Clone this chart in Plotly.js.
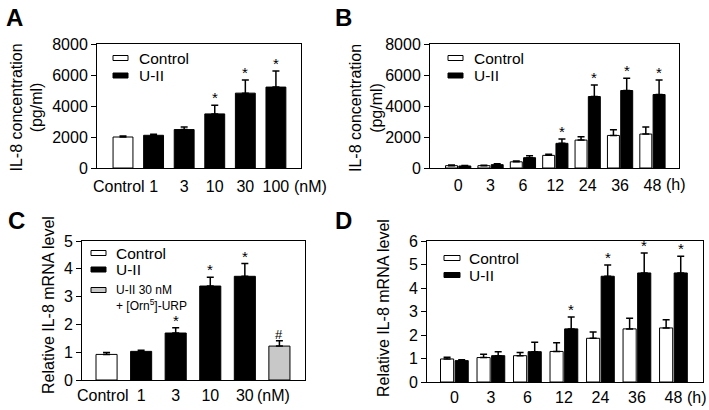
<!DOCTYPE html>
<html>
<head>
<meta charset="utf-8">
<script src="https://cdn.plot.ly/plotly-3.0.1.min.js"></script>
<style>
  html, body { margin: 0; padding: 0; background: #fff; }
  #chart { width: 709px; height: 410px; }
</style>
</head>
<body>
<div id="chart"></div>
<script>
// A: IL-8 protein vs U-II dose
var doseA = ['Control', '1', '3', '10', '30', '100'];
var ctrlA = [2000];
var ctrlAErr = [60];
var uiiA = [2110, 2480, 3490, 4830, 5220];
var uiiAErr = [70, 170, 560, 840, 1035];
var starsA = [3, 4, 5];

// B: IL-8 protein vs time
var hours = ['0', '3', '6', '12', '24', '36', '48'];
var ctrlB = [150, 150, 400, 815, 1800, 2100, 2190];
var ctrlBErr = [40, 30, 50, 70, 215, 365, 450];
var uiiB = [130, 215, 665, 1590, 4610, 5000, 4740];
var uiiBErr = [30, 65, 130, 280, 750, 795, 945];
var starsB = [3, 4, 5, 6];

// C: IL-8 mRNA vs dose (+ antagonist)
var doseC = ['Control', '1', '3', '10', '30', 'URP'];
var ctrlC = [0.92];
var ctrlCErr = [0.07];
var uiiC = [1.03, 1.69, 3.38, 3.73];
var uiiCErr = [0.04, 0.19, 0.32, 0.46];
var urpC = [1.22];
var urpCErr = [0.19];
var starsC = [2, 3, 4];

// D: IL-8 mRNA vs time
var ctrlD = [0.98, 1.04, 1.12, 1.30, 1.86, 2.26, 2.30];
var ctrlDErr = [0.07, 0.14, 0.14, 0.37, 0.27, 0.45, 0.35];
var uiiD = [0.91, 1.12, 1.29, 2.26, 4.50, 4.64, 4.64];
var uiiDErr = [0.04, 0.17, 0.40, 0.51, 0.48, 0.85, 0.71];
var starsD = [3, 4, 5, 6];

var FONT = 'Arial, "Liberation Sans", sans-serif';
var W = 709, H = 410;
var GRAY = '#c8c8c8';

function bar(x, y, err, name, fill, ax, off, w) {
    return {
        type: 'bar', x: x, y: y, name: name,
        xaxis: 'x' + ax, yaxis: 'y' + ax, showlegend: false,
        offset: off, width: w,
        marker: {color: fill, line: {color: '#000', width: 1}},
        error_y: {type: 'data', symmetric: false, array: err,
                  arrayminus: err.map(() => 0),
                  color: '#000', thickness: 1.5, width: 3.5},
        cliponaxis: false
    };
}

// significance marks sit on top of the error bar
function marks(ax, pos, vals, errs, shift, txt, size) {
    return vals.map((v, i) => ({
        xref: 'x' + ax, yref: 'y' + ax,
        x: pos[i] + shift, y: v + errs[i],
        text: txt, showarrow: false, yanchor: 'bottom', yshift: -3,
        font: {family: FONT, size: size || 15, color: '#000'}
    }));
}
function pick(arr, idx) { return idx.map(i => arr[i]); }
var minus1 = idx => idx.map(i => i - 1);

var data = [
    bar(['Control'], ctrlA, ctrlAErr, 'Control', '#fff', '', -0.325, 0.65),
    bar(doseA.slice(1), uiiA, uiiAErr, 'U-II', '#000', '', -0.325, 0.65),

    bar(hours, ctrlB, ctrlBErr, 'Control', '#fff', '2', -0.39, 0.37),
    bar(hours, uiiB, uiiBErr, 'U-II', '#000', '2', 0.02, 0.37),

    bar(['Control'], ctrlC, ctrlCErr, 'Control', '#fff', '3', -0.305, 0.61),
    bar(doseC.slice(1, 5), uiiC, uiiCErr, 'U-II', '#000', '3', -0.305, 0.61),
    bar(['URP'], urpC, urpCErr, 'U-II 30 nM + [Orn5]-URP', GRAY, '3', -0.305, 0.61),

    bar(hours, ctrlD, ctrlDErr, 'Control', '#fff', '4', -0.38, 0.36),
    bar(hours, uiiD, uiiDErr, 'U-II', '#000', '4', 0.02, 0.36)
];

// "Control" is written a little left of its bar (as an annotation below)
function xax(dom, range, cats, anchor, standoff, labelled) {
    var ax = {
        domain: dom, range: range, anchor: anchor,
        type: 'category', categoryorder: 'array', categoryarray: cats,
        showline: true, mirror: true, linecolor: '#000', linewidth: 1,
        ticks: '', tickangle: 0, ticklabelstandoff: standoff,
        showgrid: false, zeroline: false, fixedrange: true,
        tickfont: {family: FONT, size: 16, color: '#000'}
    };
    if (labelled) {
        ax.tickmode = 'array';
        ax.tickvals = labelled;
        ax.ticktext = labelled;
    }
    return ax;
}
function yax(dom, range, dtick, anchor) {
    return {
        domain: dom, range: range, dtick: dtick, anchor: anchor,
        showline: true, mirror: true, linecolor: '#000', linewidth: 1,
        ticks: 'outside', ticklen: 5, tickcolor: '#000',
        showgrid: false, zeroline: false, fixedrange: true,
        tickfont: {family: FONT, size: 16, color: '#000'}
    };
}

function text(x, y, t, size, extra) {
    return Object.assign({xref: 'paper', yref: 'paper', x: x / W, y: 1 - y / H, text: t,
        showarrow: false, xanchor: 'center', yanchor: 'middle',
        font: {family: FONT, size: size, color: '#000'}}, extra || {});
}

// hand-drawn legends: flat swatch + label, in pixels
var shapes = [];
var legendText = [];
function swatch(x0, x1, y, fill) {
    shapes.push({type: 'rect', xref: 'paper', yref: 'paper',
        x0: x0 / W, x1: x1 / W, y0: 1 - (y + 2.5) / H, y1: 1 - (y - 2.5) / H,
        fillcolor: fill, line: {color: '#000', width: 1}});
}
function legendRow(x0, x1, y, fill, tx, label) {
    swatch(x0, x1, y, fill);
    legendText.push(text(tx, y, label, 15.5, {xanchor: 'left'}));
}
legendRow(113, 128, 58, '#fff', 137, 'Control');
legendRow(113, 128, 75.5, '#000', 137, 'U-II');
legendRow(448, 463, 58, '#fff', 472, 'Control');
legendRow(448, 463, 75.5, '#000', 472, 'U-II');
legendRow(91, 106, 253, '#fff', 114, 'Control');
legendRow(91, 106, 269.5, '#000', 114, 'U-II');
swatch(91, 106, 290, GRAY);
legendText.push(text(114, 297.5, 'U-II 30 nM<br>+ [Orn<sup>5</sup>]-URP', 12,
    {xanchor: 'left', align: 'left'}));
legendRow(444, 460, 258, '#fff', 467, 'Control');
legendRow(444, 460, 275, '#000', 467, 'U-II');

var annotations = []
    .concat(marks('', starsA, pick(uiiA, minus1(starsA)), pick(uiiAErr, minus1(starsA)), 0, '*'))
    .concat(marks('2', starsB, pick(uiiB, starsB), pick(uiiBErr, starsB), 0.205, '*'))
    .concat(marks('3', starsC, pick(uiiC, minus1(starsC)), pick(uiiCErr, minus1(starsC)), 0, '*'))
    .concat(marks('3', [5], urpC, urpCErr, 0, '#', 13))
    .concat(marks('4', starsD, pick(uiiD, starsD), pick(uiiDErr, starsD), 0.2, '*'))
    .concat(legendText)
    .concat([
        text(15, 17, '<b>A</b>', 24),
        text(343, 17, '<b>B</b>', 24),
        text(16, 220, '<b>C</b>', 24),
        text(343, 220, '<b>D</b>', 24),
        text(26.5, 108, 'IL-8 concentration<br>(pg/ml)', 16, {textangle: -90}),
        text(366, 108, 'IL-8 concentration<br>(pg/ml)', 16, {textangle: -90}),
        text(48, 305, 'Relative IL-8 mRNA level', 16, {textangle: -90}),
        text(383, 308, 'Relative IL-8 mRNA level', 16, {textangle: -90}),
        text(119, 187, 'Control', 16),
        text(310, 187, '(nM)', 16),
        text(676, 185, '(h)', 16),
        text(102.5, 395, 'Control', 16),
        text(273, 395, '(nM)', 16),
        text(697, 397, '(h)', 16)
    ]);

var layout = {
    width: W, height: H,
    margin: {l: 0, r: 0, t: 0, b: 0},
    paper_bgcolor: '#fff', plot_bgcolor: '#fff',
    barmode: 'overlay', showlegend: false,
    font: {family: FONT, color: '#000'},
    xaxis: xax([97 / W, 301 / W], [-0.85, 5.82], doseA, 'y', 4, doseA.slice(1)),
    yaxis: yax([1 - 168 / H, 1 - 44 / H], [0, 8000], 2000, 'x'),
    xaxis2: xax([430 / W, 679 / W], [-0.87, 6.82], hours, 'y2', 3),
    yaxis2: yax([1 - 168 / H, 1 - 44 / H], [0, 8000], 2000, 'x2'),
    xaxis3: xax([82 / W, 305 / W], [-0.71, 5.74], doseC, 'y3', 1, doseC.slice(1, 5)),
    yaxis3: yax([1 - 380 / H, 1 - 241 / H], [0, 5], 1, 'x3'),
    xaxis4: xax([427 / W, 703 / W], [-0.75, 6.81], hours, 'y4', 1),
    yaxis4: yax([1 - 382 / H, 1 - 241 / H], [0, 6], 1, 'x4'),
    shapes: shapes,
    annotations: annotations
};

Plotly.newPlot('chart', data, layout, {displayModeBar: false, staticPlot: true});
</script>
</body>
</html>
